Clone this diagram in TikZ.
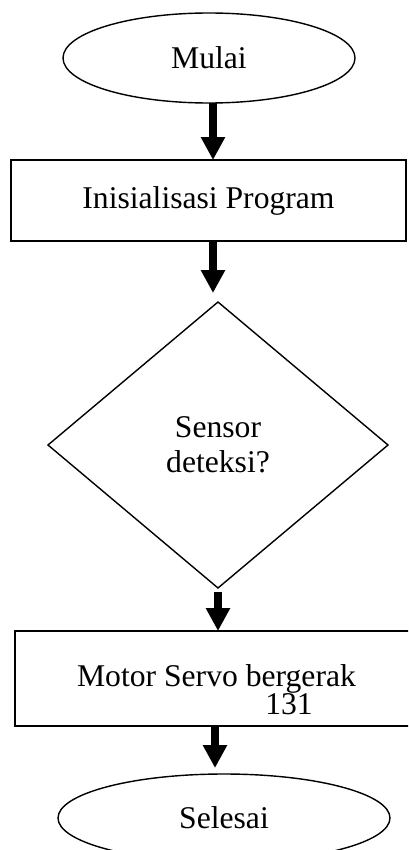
\documentclass[tikz,border=0pt]{standalone}
\usepackage{fontspec}
\setmainfont{Liberation Serif}
\usepackage{tikz}
\usetikzlibrary{shapes.geometric}
\usetikzlibrary{arrows.meta}
\usetikzlibrary{positioning}

\tikzset{
  terminal/.style={ellipse,draw,line width=0.8pt,inner sep=0pt,outer sep=0pt},
  process/.style={rectangle,draw,line width=0.8pt,inner sep=0pt,outer sep=0pt},
  decision/.style={diamond,draw,line width=0.8pt,inner sep=0pt,outer sep=0pt,
    minimum width=6.8cm,minimum height=5.72cm,align=center},
  flow/.style={line width=0.16cm,-{Triangle[width=0.46cm,length=0.46cm]}}
}

\begin{document}
\begin{tikzpicture}[font=\fontsize{18}{20}\selectfont]
\clip (0,0) rectangle (8.16,-17);
\node[terminal,minimum width=5.84cm,minimum height=1.8cm] (start) at (4.18,-1.16) {Mulai};
\node[process,minimum width=7.9cm,minimum height=1.62cm] (init) at (4.17,-4.01) {Inisialisasi Program};
\node[decision] (cek) at (4.36,-8.9) {Sensor\\deteksi?};
\node[process,minimum width=8.06cm,minimum height=1.9cm] (servo) at (4.33,-13.57) {Motor Servo bergerak};
\node (hal) at (5.78,-14.09) {131};
\node[terminal,minimum width=6.64cm,minimum height=1.76cm] (stop) at (4.48,-16.36) {Selesai};
% arrows
\draw[flow] ([xshift=0.08cm]start.south) -- ([xshift=0.08cm]start.south |- init.north);
\draw[flow,shorten >=0.18cm] ([xshift=0.09cm]init.south) -- ([xshift=0.09cm]init.south |- cek.north);
\draw[flow,shorten <=0.08cm] (cek.south) -- (cek.south |- servo.north);
\draw[flow,shorten >=0.12cm] ([xshift=-0.03cm]servo.south) -- ([xshift=-0.03cm]servo.south |- stop.north);
\end{tikzpicture}
\end{document}
